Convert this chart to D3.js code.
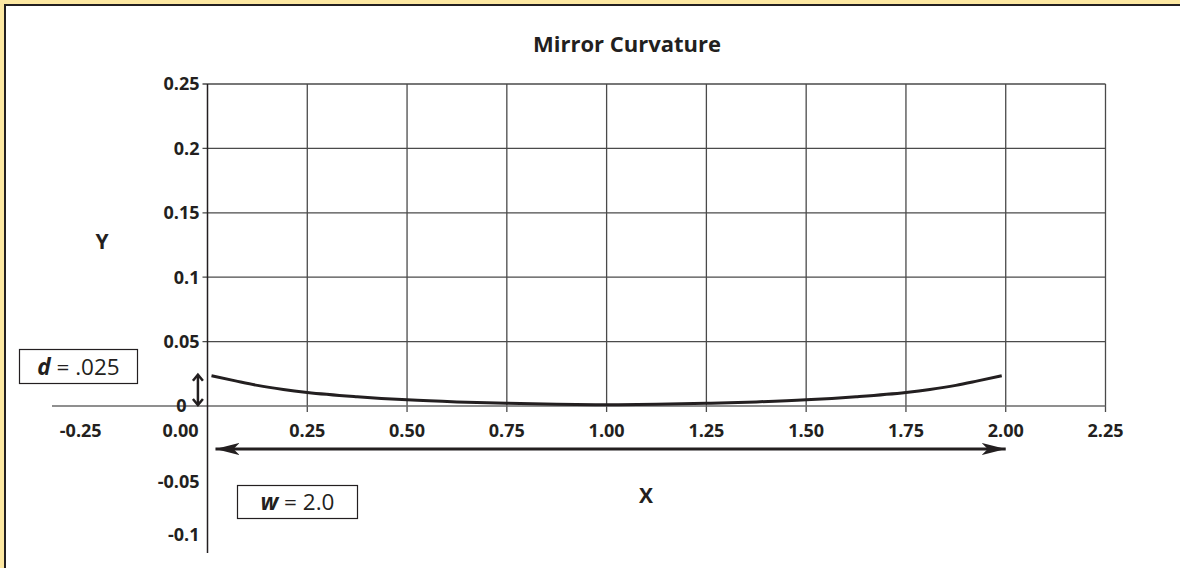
<!DOCTYPE html>
<html><head><meta charset="utf-8">
<script src="https://cdn.jsdelivr.net/npm/d3@7"></script>
<style>
html,body{margin:0;padding:0;background:#fde8a2;}
svg{display:block;font-family:"Open Sans","Noto Sans",sans-serif;}
</style></head>
<body>
<script>
// ---- data ----
const curveX = [0.01,0.07,0.125,0.19,0.25,0.375,0.5,0.625,0.75,0.875,1.0,1.125,1.25,1.375,1.5,1.625,1.75,1.81,1.875,1.93,1.99];
const curveY = [0.0235,0.0195,0.0160,0.0128,0.0105,0.0072,0.0048,0.0032,0.0021,0.0013,0.0010,0.0013,0.0021,0.0032,0.0048,0.0072,0.0105,0.0128,0.0160,0.0195,0.0235];
const xTickValues = [-0.25,0,0.25,0.5,0.75,1,1.25,1.5,1.75,2,2.25];
const xTickLabels = ["-0.25","0.00","0.25","0.50","0.75","1.00","1.25","1.50","1.75","2.00","2.25"];
const yTickValues = [0.25,0.2,0.15,0.1,0.05,0,-0.05,-0.1];
const yTickLabels = ["0.25","0.2","0.15","0.1","0.05","0","-0.05","-0.1"];
const xGrid = [0.25,0.5,0.75,1,1.25,1.5,1.75,2,2.25];
const yGrid = [0.05,0.1,0.15,0.2,0.25];
const mirrorWidth = 2.0;   // w
const mirrorDepth = 0.025; // d
const title = "Mirror Curvature";

const W = 1180, H = 568;
const svg = d3.select("body").append("svg").attr("width", W).attr("height", H);

// frame
svg.append("rect").attr("x",0).attr("y",0).attr("width",W).attr("height",H).attr("fill","#fde8a2");
svg.append("rect").attr("x",5).attr("y",5).attr("width",W+10).attr("height",H+10)
  .attr("fill","#fff").attr("stroke","#231f20").attr("stroke-width",2);

const x = d3.scaleLinear().domain([0,2.25]).range([207.5,1105.5]);
const y = d3.scaleLinear().domain([0,0.25]).range([406,84]);
const ink = "#231f20", grid = "#4a4a4a";

// vertical grid lines
svg.append("g").selectAll("line").data(xGrid).join("line")
  .attr("x1",d=>x(d)).attr("x2",d=>x(d))
  .attr("y1",y(0.25)).attr("y2",y(0)+6)
  .attr("stroke",grid).attr("stroke-width",1.3);
// horizontal grid lines
svg.append("g").selectAll("line").data(yGrid).join("line")
  .attr("x1",x(0)-5).attr("x2",x(2.25))
  .attr("y1",d=>y(d)).attr("y2",d=>y(d))
  .attr("stroke",grid).attr("stroke-width",1.3);
// zero line
svg.append("line").attr("x1",52).attr("x2",x(2.25)).attr("y1",y(0)).attr("y2",y(0))
  .attr("stroke","#6a6a6a").attr("stroke-width",1.6);
// y axis
svg.append("line").attr("x1",x(0)).attr("x2",x(0)).attr("y1",y(0.25)).attr("y2",553)
  .attr("stroke",ink).attr("stroke-width",1.5);

// y tick labels
svg.append("g").selectAll("text").data(yTickValues).join("text")
  .attr("x",d=> d===0 ? x(0)-21 : x(0)-8)
  .attr("y",d=> y(d) + (d===-0.05 ? 11 : 0))
  .attr("dy","0.36em").attr("text-anchor","end")
  .attr("font-size",18).attr("font-weight",700).attr("fill",ink)
  .text((d,i)=>yTickLabels[i]);

// x tick labels
svg.append("g").selectAll("text").data(xTickValues).join("text")
  .attr("x",d=> x(d) + (d<=0 ? -27 : 0))
  .attr("y",y(0)+25)
  .attr("dy","0.36em").attr("text-anchor","middle")
  .attr("font-size",18).attr("font-weight",700).attr("fill",ink)
  .text((d,i)=>xTickLabels[i]);

// title & axis titles
svg.append("text").attr("x",627).attr("y",52).attr("text-anchor","middle")
  .attr("font-size",22).attr("font-weight",700).attr("fill",ink).text(title);
svg.append("text").attr("x",102).attr("y",241).attr("dy","0.36em").attr("text-anchor","middle")
  .attr("font-size",21).attr("font-weight",700).attr("fill",ink).text("Y");
svg.append("text").attr("x",646).attr("y",495).attr("dy","0.36em").attr("text-anchor","middle")
  .attr("font-size",21).attr("font-weight",700).attr("fill",ink).text("X");

// curve
const line = d3.line().x(d=>x(d[0])).y(d=>y(d[1])).curve(d3.curveMonotoneX);
svg.append("path").datum(curveX.map((v,i)=>[v,curveY[i]]))
  .attr("d",line).attr("fill","none").attr("stroke",ink).attr("stroke-width",3);

// horizontal double arrow (w)
const defs = svg.append("defs");
defs.append("marker").attr("id","stealth").attr("viewBox","0 0 24 12").attr("refX",24).attr("refY",6)
  .attr("markerWidth",24).attr("markerHeight",12).attr("markerUnits","userSpaceOnUse").attr("orient","auto-start-reverse")
  .append("path").attr("d","M0,0 L24,6 L0,12 L6,6 Z").attr("fill",ink);
const ay = 449;
svg.append("line").attr("x1",x(0.02)).attr("x2",x(mirrorWidth)).attr("y1",ay).attr("y2",ay)
  .attr("stroke",ink).attr("stroke-width",3)
  .attr("marker-start","url(#stealth)").attr("marker-end","url(#stealth)");

// vertical double arrow (d)
const vx = x(-0.024);
const vt = y(mirrorDepth), vb = y(0);
svg.append("line").attr("x1",vx).attr("x2",vx).attr("y1",vt+1).attr("y2",vb-1)
  .attr("stroke",ink).attr("stroke-width",2.5);
svg.append("path").attr("d",`M${vx-5},${vt+7} L${vx},${vt+1} L${vx+5},${vt+7}`)
  .attr("fill","none").attr("stroke",ink).attr("stroke-width",2.5);
svg.append("path").attr("d",`M${vx-5},${vb-7} L${vx},${vb-1} L${vx+5},${vb-7}`)
  .attr("fill","none").attr("stroke",ink).attr("stroke-width",2.5);

// d box
svg.append("rect").attr("x",19.5).attr("y",349.5).attr("width",118).attr("height",34)
  .attr("fill","#fff").attr("stroke",ink).attr("stroke-width",1.2);
const dt = svg.append("text").attr("x",78.5).attr("y",366.5).attr("dy","0.36em").attr("text-anchor","middle")
  .attr("font-size",22.5).attr("fill",ink);
dt.append("tspan").attr("font-style","italic").attr("font-weight",700).text("d");
dt.append("tspan").text(" = .025");

// w box
svg.append("rect").attr("x",237.5).attr("y",485.5).attr("width",120).attr("height",33)
  .attr("fill","#fff").attr("stroke",ink).attr("stroke-width",1.2);
const wt = svg.append("text").attr("x",297.5).attr("y",502).attr("dy","0.36em").attr("text-anchor","middle")
  .attr("font-size",22.5).attr("fill",ink);
wt.append("tspan").attr("font-style","italic").attr("font-weight",700).text("w");
wt.append("tspan").text(" = 2.0");
</script>
</body></html>
